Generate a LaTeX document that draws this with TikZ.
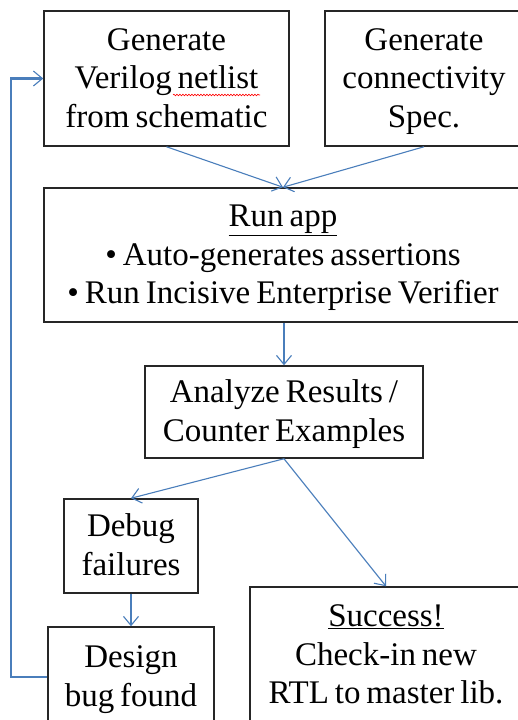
\documentclass[tikz,border=0pt]{standalone}
\usepackage{fontspec}
\setmainfont{Liberation Serif}[WordSpace=0.72]
\usetikzlibrary{arrows.meta,decorations.pathmorphing,calc}
\definecolor{linkblue}{HTML}{4A7EBB}
\definecolor{edgegray}{HTML}{262626}
% invisible rule giving first and last lines the same height and depth
\newcommand\ls{\rule[-9.25pt]{0pt}{38.5pt}}

\begin{document}
\begin{tikzpicture}[x=1pt,y=-1pt,
  stepbox/.style={draw=edgegray, line width=1.5pt, align=center, inner sep=0pt,
    font=\fontsize{33}{38.5}\selectfont},
  link/.style={draw=linkblue, line width=1.1pt,
    -{Straight Barb[length=9pt,width=15pt,line width=1.1pt]}},
]
\useasboundingbox (0,0) rectangle (518,720);

% flow steps
\node[stepbox, minimum width=245, minimum height=135] (gen) at (166.5,78.5)
  {\ls Generate\\Verilog netlist\\from schematic\ls};
\node[stepbox, minimum width=198, minimum height=135] (spec) at (424,78.5)
  {\ls Generate\\connectivity\\Spec.\ls};
\node[stepbox, minimum width=478, minimum height=134] (run) at (283,255)
  {\ls\underline{Run app}\\• Auto-generates assertions\\• Run Incisive Enterprise Verifier\ls};
\node[stepbox, minimum width=278, minimum height=92] (ana) at (284,412)
  {\ls Analyze Results /\\Counter Examples\ls};
\node[stepbox, minimum width=134, minimum height=94] (dbg) at (131,546)
  {\ls Debug\\failures\ls};
\node[stepbox, minimum width=166, minimum height=100] (bug) at (131,677)
  {\ls Design\\bug found\ls};
\node[stepbox, minimum width=272, minimum height=136] (ok) at (386,655)
  {\ls\underline{Success!}\\Check-in new\\RTL to master lib.\ls};

% spell-check squiggle under "netlist"
\draw[red, line width=0.6pt, decorate,
  decoration={snake, amplitude=0.8pt, segment length=3pt}] (173,95) -- (260,95);

% connectors
\draw[link] (gen.south) -- (run.north);
\draw[link] (spec.south) -- (run.north);
\draw[link] (ana.north |- run.south) -- (ana.north);
\draw[link] (ana.south) -- (dbg.north);
\draw[link] (ana.south) -- (ok.north);
\draw[link] (dbg.south) -- (bug.north);
\draw[link, line width=2.2pt] (bug.west) -- ++(-36,0) |- (gen.west);
\end{tikzpicture}
\end{document}
